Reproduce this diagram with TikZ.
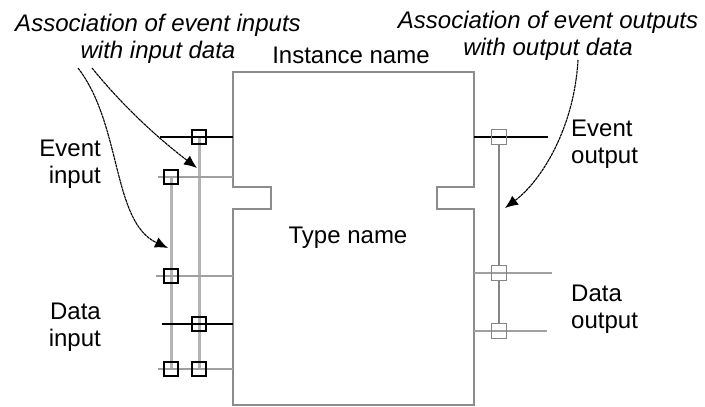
\documentclass[tikz,border=0pt]{standalone}
\usepackage{fontspec}
\setmainfont{Liberation Sans}
\usetikzlibrary{arrows.meta}
\definecolor{bodygray}{HTML}{8C8C8C}
\definecolor{assocgray}{HTML}{B4B4B4}
\definecolor{linegray}{HTML}{A0A0A0}
\definecolor{rgray}{HTML}{858585}
\tikzset{
  lbl/.style={font=\fontsize{24}{27}\selectfont, inner sep=0pt},
  ilbl/.style={font=\fontsize{24}{27}\selectfont\itshape, inner sep=0pt, align=center},
  body/.style={draw=bodygray, line width=2.5pt, line join=miter},
  blackline/.style={draw=black, line width=1.1pt},
  grayline/.style={draw=linegray, line width=1.8pt},
  assoc/.style={draw=assocgray, line width=3pt},
  rassoc/.style={draw=rgray, line width=1.6pt},
  lsq/.style={draw=black, line width=1.2pt, minimum size=14pt, inner sep=0pt, rectangle},
  rsq/.style={draw=rgray, line width=1.4pt, minimum size=15pt, inner sep=0pt, rectangle},
  pointer/.style={draw=black, line width=1.1pt, dash pattern=on 3pt off 0.6pt, -{Latex[length=13pt,width=11pt]}}
}
\begin{document}
\begin{tikzpicture}[x=1pt,y=-1pt]
\useasboundingbox (0,0) rectangle (705,407);
% body outline
\draw[body] (233,72) -- (474,72) -- (474,187) -- (437,187) -- (437,209) -- (474,209)
  -- (474,405) -- (233,405) -- (233,209) -- (271,209) -- (271,187) -- (233,187) -- cycle;
% left port coordinates
\coordinate (ei1s) at (160,137); \coordinate (ei1e) at (233,137);
\coordinate (ei2s) at (158,177); \coordinate (ei2e) at (233,177);
\coordinate (di1s) at (156,276); \coordinate (di1e) at (233,276);
\coordinate (di2s) at (162,324); \coordinate (di2e) at (233,324);
\coordinate (di3s) at (158,369); \coordinate (di3e) at (233,369);
% right port coordinates
\coordinate (eo1s) at (474,137); \coordinate (eo1e) at (548,137);
\coordinate (do1s) at (474,273); \coordinate (do1e) at (552,273);
\coordinate (do2s) at (474,331); \coordinate (do2e) at (547,331);
% association vertical lines (left)
\coordinate (va1) at (171,177); \coordinate (va2) at (171,369);
\coordinate (vb1) at (199,137); \coordinate (vb2) at (199,369);
\draw[assoc] (va1) -- (va2);
\draw[assoc] (vb1) -- (vb2);
% horizontal port lines (left)
\draw[blackline] (ei1s) -- (ei1e);
\draw[grayline] (ei2s) -- (ei2e);
\draw[grayline] (di1s) -- (di1e);
\draw[blackline] (di2s) -- (di2e);
\draw[grayline] (di3s) -- (di3e);
% right lines
\draw[blackline] (eo1s) -- (eo1e);
\draw[grayline] (do1s) -- (do1e);
\draw[grayline] (do2s) -- (do2e);
% squares left
\node[lsq] (s1) at (199,137) {};
\node[lsq] (s2) at (171,177) {};
\node[lsq] (s3) at (171,276) {};
\node[lsq] (s4) at (199,324) {};
\node[lsq] (s5) at (171,369) {};
\node[lsq] (s6) at (199,369) {};
% squares right
\node[rsq] (r1) at (499,137) {};
\node[rsq] (r2) at (499,273) {};
\node[rsq] (r3) at (499,331) {};
\draw[rassoc] (r1) -- (r2);
\draw[rassoc] (r2) -- (r3);
% labels (base anchor = baseline of last line)
\node[lbl, anchor=base] (inst) at (351,63) {Instance name};
\node[lbl, anchor=base] (type) at (348,243) {Type name};
\node[lbl, anchor=base east, align=right] (evin) at (101,183) {Event\\input};
\node[lbl, anchor=base east, align=right] (dain) at (101,346) {Data\\input};
\node[lbl, anchor=base west, align=left] (evout) at (571,163) {Event\\output};
\node[lbl, anchor=base west, align=left] (daout) at (571,328) {Data\\output};
\node[ilbl, anchor=base] (associn) at (158,58) {Association of event inputs\\with input data};
\node[ilbl, anchor=base] (assocout) at (548,55) {Association of event outputs\\with output data};
% pointer arrows
\coordinate (pa) at (78,68);
\coordinate (pb) at (92,68);
\coordinate (pc) at (578,60);
\coordinate (ta) at (168,248);
\coordinate (tb) at (197,168);
\coordinate (tc) at (505,208);
\draw[pointer] (pa) .. controls (122,125) and (112,222) .. (ta);
\draw[pointer] (pb) .. controls (118,100) and (150,132) .. (tb);
\draw[pointer] (pc) .. controls (574,130) and (540,182) .. (tc);
\end{tikzpicture}
\end{document}
